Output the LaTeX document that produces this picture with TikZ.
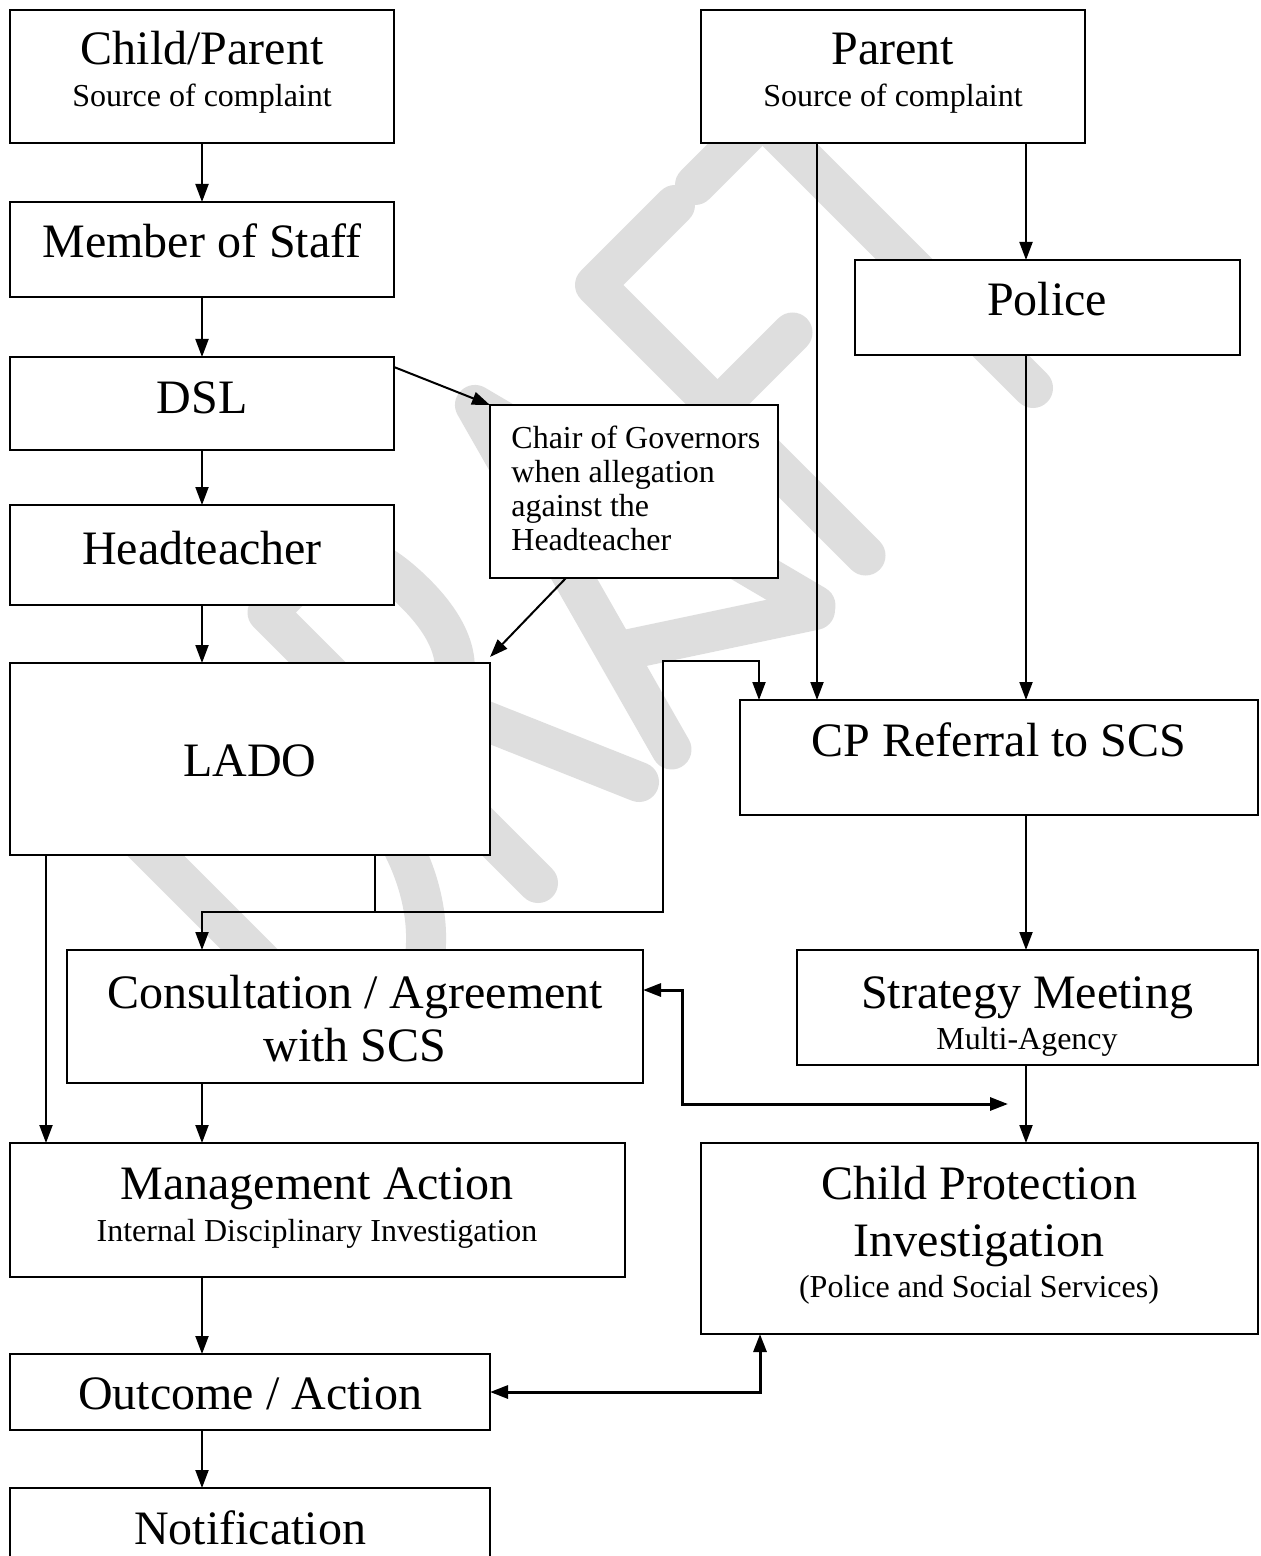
\documentclass[tikz,border=0pt]{standalone}
\usepackage{fontspec}
\setmainfont{Liberation Serif}
\usetikzlibrary{arrows.meta,calc}
\definecolor{wm}{RGB}{222,222,222}
\tikzset{
  box/.style={draw, line width=1pt, fill=white, rectangle, inner sep=0pt, outer sep=0pt, anchor=north west},
  big/.style={font=\fontsize{24}{27.6}\selectfont, anchor=base, inner sep=0pt},
  small/.style={font=\fontsize{16}{18.4}\selectfont, anchor=base, inner sep=0pt},
  smallleft/.style={font=\fontsize{16}{18.4}\selectfont, anchor=base west, inner sep=0pt},
  arr/.style={line width=1pt, -{Triangle[length=9pt,width=6.5pt]}},
  plain/.style={line width=1pt},
  dbl/.style={line width=1.5pt, {Triangle[length=9pt,width=6.5pt]}-{Triangle[length=9pt,width=6.5pt]}},
  wmstroke/.style={draw=wm, line width=20pt, line cap=round, line join=round},
}
\newcommand{\mybox}[5]{\node[box, minimum width={(#4-#2)*0.5pt}, minimum height={(#5-#3)*0.5pt}] (#1) at (#2,#3) {};}
\begin{document}
\begin{tikzpicture}[x=0.5pt,y=-0.5pt]
\useasboundingbox (0,0) rectangle (1260,1556);
\fill[white] (0,0) rectangle (1260,1556);
% watermark DRAFT
\begin{scope}[rotate=45, scale=0.70711]
  \draw[wmstroke] (-700,1421) -- (-700,880) -- (-620,880) .. controls (-470,880) and (-425,1000) .. (-425,1130) .. controls (-425,1290) and (-520,1421) .. (-640,1421) -- cycle;
  \draw[wmstroke] (-345,1421) -- (-345,880) -- (-260,880) .. controls (-200,880) and (-178,930) .. (-178,1010) .. controls (-178,1100) and (-215,1145) .. (-270,1145) -- (-345,1145);
  \draw[wmstroke] (-262,1145) -- (-143,1421);
  \draw[wmstroke] (-78,1421) -- (70,880) -- (210,1421);
  \draw[wmstroke] (-25,1275) -- (205,1425);
  \draw[wmstroke] (310,1421) -- (310,880) -- (470,880);
  \draw[wmstroke] (310,1125) -- (460,1125);
  \draw[wmstroke] (510,880) -- (780,880);
  \draw[wmstroke] (645,880) -- (645,1421);
\end{scope}
% boxes
\mybox{cp}{10}{10}{394}{143}
\mybox{parent}{701}{10}{1085}{143}
\mybox{staff}{10}{202}{394}{297}
\mybox{police}{855}{260}{1240}{355}
\mybox{dsl}{10}{357}{394}{450}
\mybox{chair}{490}{405}{778}{578}
\mybox{head}{10}{505}{394}{605}
\mybox{lado}{10}{663}{490}{855}
\mybox{cpr}{740}{700}{1258}{815}
\mybox{cons}{67}{950}{643}{1083}
\mybox{strat}{797}{950}{1258}{1065}
\mybox{mgmt}{10}{1143}{625}{1277}
\mybox{cpi}{701}{1143}{1258}{1334}
\mybox{outc}{10}{1354}{490}{1430}
\mybox{notif}{10}{1488}{490}{1600}
% texts
\node[big] (t1a) at (202,65) {Child/Parent};
\node[small] (t1b) at (202,107) {Source of complaint};
\node[big] (t2a) at (893,65) {Parent};
\node[small] (t2b) at (893,107) {Source of complaint};
\node[big] (t3) at (202,258) {Member of Staff};
\node[big] (t4) at (202,413) {DSL};
\node[big] (t5) at (202,564) {Headteacher};
\node[smallleft] (t6a) at (511,448) {Chair of Governors};
\node[smallleft] (t6b) at (511,482) {when allegation};
\node[smallleft] (t6c) at (511,516) {against the};
\node[smallleft] (t6d) at (511,550) {Headteacher};
\node[big] (t7) at (1047,316) {Police};
\node[big] (t8) at (250,776) {LADO};
\node[big] (t9) at (999,756) {CP Referral to SCS};
\node[big] (t10a) at (355,1008) {Consultation / Agreement};
\node[big] (t10b) at (355,1061) {with SCS};
\node[big] (t11a) at (1027,1008) {Strategy Meeting};
\node[small] (t11b) at (1027,1049) {Multi-Agency};
\node[big] (t12a) at (317,1199) {Management Action};
\node[small] (t12b) at (317,1241) {Internal Disciplinary Investigation};
\node[big] (t13a) at (979,1199) {Child Protection};
\node[big] (t13b) at (979,1256) {Investigation};
\node[small] (t13c) at (979,1297) {(Police and Social Services)};
\node[big] (t14) at (250,1409) {Outcome / Action};
\node[big] (t15) at (250,1544) {Notification};
% helper coordinates
\coordinate (pp) at ($(parent.south west)+(325,0)$);
\coordinate (pq) at ($(parent.south west)+(116,0)$);
\coordinate (lj) at ($(lado.south west)+(365,0)$);
\coordinate (jn) at (375,912);
\coordinate (rt) at (663,661);
\coordinate (cprin) at ($(cpr.north west)+(19,0)$);
\coordinate (d1) at (682,1104);
\coordinate (d2) at ($(pp |- d1)+(-18,0)$);
% connectors
\draw[arr] (cp.south) -- (staff.north);
\draw[arr] (staff.south) -- (dsl.north);
\draw[arr] (dsl.south) -- (head.north);
\draw[arr] (head.south) -- (head.south |- lado.north);
\draw[arr] ($(dsl.north east)+(0,10)$) -- (chair.north west);
\draw[arr] ($(chair.south west)+(76,0)$) -- ($(lado.north east)+(0,-6)$);
\draw[arr] (pp) -- (pp |- police.north);
\draw[arr] (pq) -- (pq |- cpr.north);
\draw[arr] (pp |- police.south) -- (pp |- cpr.north);
\draw[plain] (lj) -- (jn);
\draw[arr] (jn) -| (cons.north -| head.south);
\draw[arr] (jn) -| (rt) -| (cprin);
\draw[arr] ($(lado.south west)+(36,0)$) -- ($(mgmt.north west)+(36,0)$);
\draw[arr] (cons.south -| head.south) -- (mgmt.north -| head.south);
\draw[arr] (pp |- cpr.south) -- (pp |- strat.north);
\draw[arr] (pp |- strat.south) -- (pp |- cpi.north);
\draw[dbl] ($(cons.north east)+(0,40)$) -| (d1) -- (d2);
\draw[arr] (mgmt.south -| head.south) -- (outc.north -| head.south);
\draw[dbl] ($(outc.north east)+(0,38)$) -| ($(cpi.south west)+(59,0)$);
\draw[arr] (outc.south -| head.south) -- (notif.north -| head.south);
\end{tikzpicture}
\end{document}
